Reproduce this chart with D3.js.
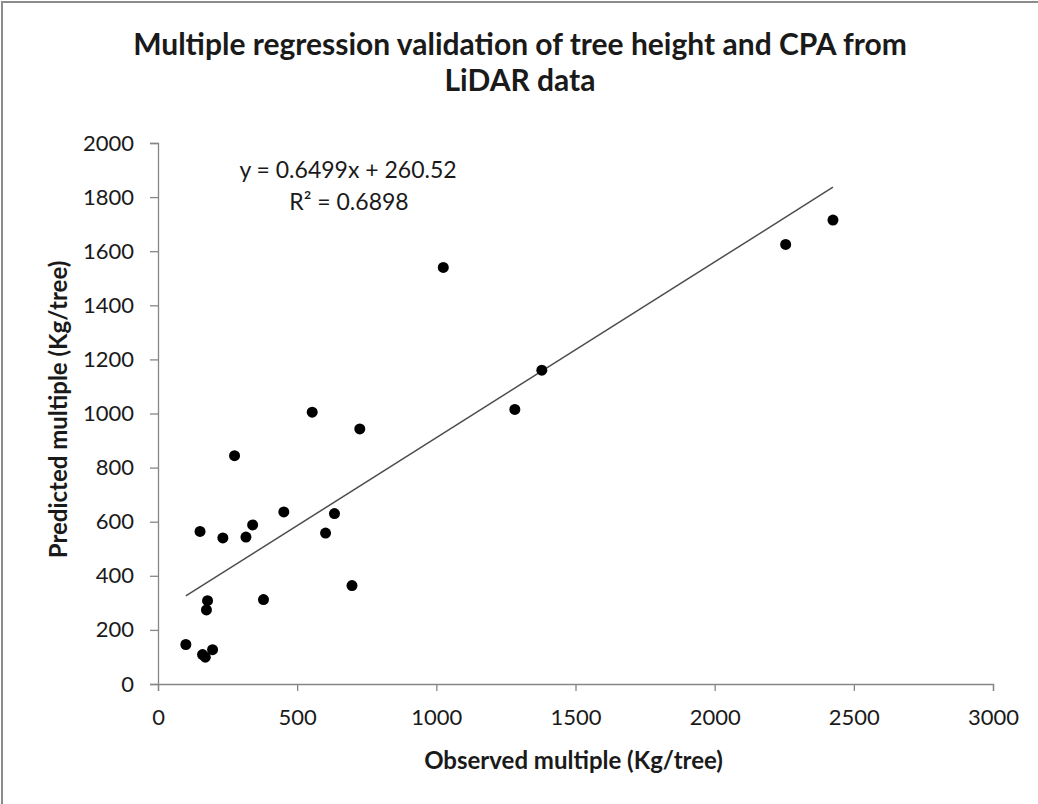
<!DOCTYPE html>
<html>
<head>
<meta charset="utf-8">
<script src="https://cdn.jsdelivr.net/npm/d3@7"></script>
<style>
  body { margin: 0; background: #fff; }
  svg text { font-family: Lato, "Open Sans", sans-serif; fill: #1a1a1a; }
</style>
</head>
<body>
<svg id="chart" width="1038" height="804"></svg>
<script>
// observed vs predicted values (Kg/tree)
var observed  = [100, 151, 160, 170, 174, 178, 196, 233, 275, 316, 340, 379, 452, 554, 602, 634, 697, 725, 1025, 1282, 1379, 2255, 2425];
var predicted = [146, 564, 109, 99, 274, 308, 127, 540, 844, 543, 588, 312, 636, 1005, 558, 630, 364, 943, 1540, 1015, 1160, 1625, 1715];

var xTicks = [0, 500, 1000, 1500, 2000, 2500, 3000];
var yTicks = [0, 200, 400, 600, 800, 1000, 1200, 1400, 1600, 1800, 2000];

// linear trendline shown in the chart
var trendSlope = 0.6499;
var trendIntercept = 260.52;

var margin = {top: 143, right: 45, bottom: 120, left: 158};
var width = 1038 - margin.left - margin.right;
var height = 804 - margin.top - margin.bottom;

var svg = d3.select("#chart");

// outer chart border (right/bottom run off the picture)
svg.append("rect")
   .attr("x", 2).attr("y", 2)
   .attr("width", 1050).attr("height", 820)
   .attr("fill", "none")
   .attr("stroke", "#8c8c8c")
   .attr("stroke-width", 2);

var xScale = d3.scaleLinear()
               .domain([0, 3000])
               .range([0, width]);

var yScale = d3.scaleLinear()
               .domain([0, 2000])
               .range([height, 0]);

var data = observed.map(function(d, i){
  return {x: d, y: predicted[i]};
});

var g = svg.append("g")
           .attr("transform", "translate(" + margin.left + "," + margin.top + ")");

var xAxis = d3.axisBottom(xScale).tickValues(xTicks).tickSize(7).tickPadding(18).tickFormat(d3.format("d"));
var yAxis = d3.axisLeft(yScale).tickValues(yTicks).tickSize(8).tickPadding(16).tickFormat(d3.format("d"));

var gx = g.append("g")
          .attr("transform", "translate(0," + height + ")")
          .call(xAxis);
var gy = g.append("g").call(yAxis);

[gx, gy].forEach(function(a){
  a.select(".domain").attr("stroke", "#868686").attr("stroke-width", 1.3);
  a.selectAll(".tick line").attr("stroke", "#868686").attr("stroke-width", 1.3);
  a.selectAll(".tick text")
   .style("font-size", "22px")
   .style("font-family", "Lato, sans-serif")
   .attr("fill", "#1a1a1a");
});

// trendline across the observed range
var xMin = d3.min(observed), xMax = d3.max(observed);
g.append("line")
 .attr("x1", xScale(xMin)).attr("y1", yScale(trendSlope * xMin + trendIntercept))
 .attr("x2", xScale(xMax)).attr("y2", yScale(trendSlope * xMax + trendIntercept))
 .attr("stroke", "#4d4d4d")
 .attr("stroke-width", 1.5);

g.selectAll(".dot")
 .data(data)
 .enter()
 .append("circle")
 .attr("class", "dot")
 .attr("cx", function(d){ return xScale(d.x); })
 .attr("cy", function(d){ return yScale(d.y); })
 .attr("r", 5.5)
 .attr("fill", "#000");

// equation label
g.append("text")
 .attr("x", 190).attr("y", 35)
 .attr("text-anchor", "middle")
 .style("font-size", "23px")
 .text("y = 0.6499x + 260.52");
g.append("text")
 .attr("x", 191).attr("y", 67)
 .attr("text-anchor", "middle")
 .style("font-size", "23px")
 .text("R² = 0.6898");

// titles
svg.append("text")
   .attr("x", 520).attr("y", 55)
   .attr("text-anchor", "middle")
   .style("font-size", "30px").style("font-weight", "bold")
   .text("Multiple regression validation of tree height and CPA from");
svg.append("text")
   .attr("x", 520).attr("y", 91)
   .attr("text-anchor", "middle")
   .style("font-size", "30px").style("font-weight", "bold")
   .text("LiDAR data");

svg.append("text")
   .attr("x", margin.left + width / 2 - 2).attr("y", 769)
   .attr("text-anchor", "middle")
   .style("font-size", "24px").style("font-weight", "bold")
   .text("Observed multiple (Kg/tree)");

svg.append("text")
   .attr("transform", "translate(67," + (margin.top + height / 2 - 4) + ") rotate(-90)")
   .attr("text-anchor", "middle")
   .style("font-size", "24px").style("font-weight", "bold")
   .text("Predicted multiple (Kg/tree)");
</script>
</body>
</html>
